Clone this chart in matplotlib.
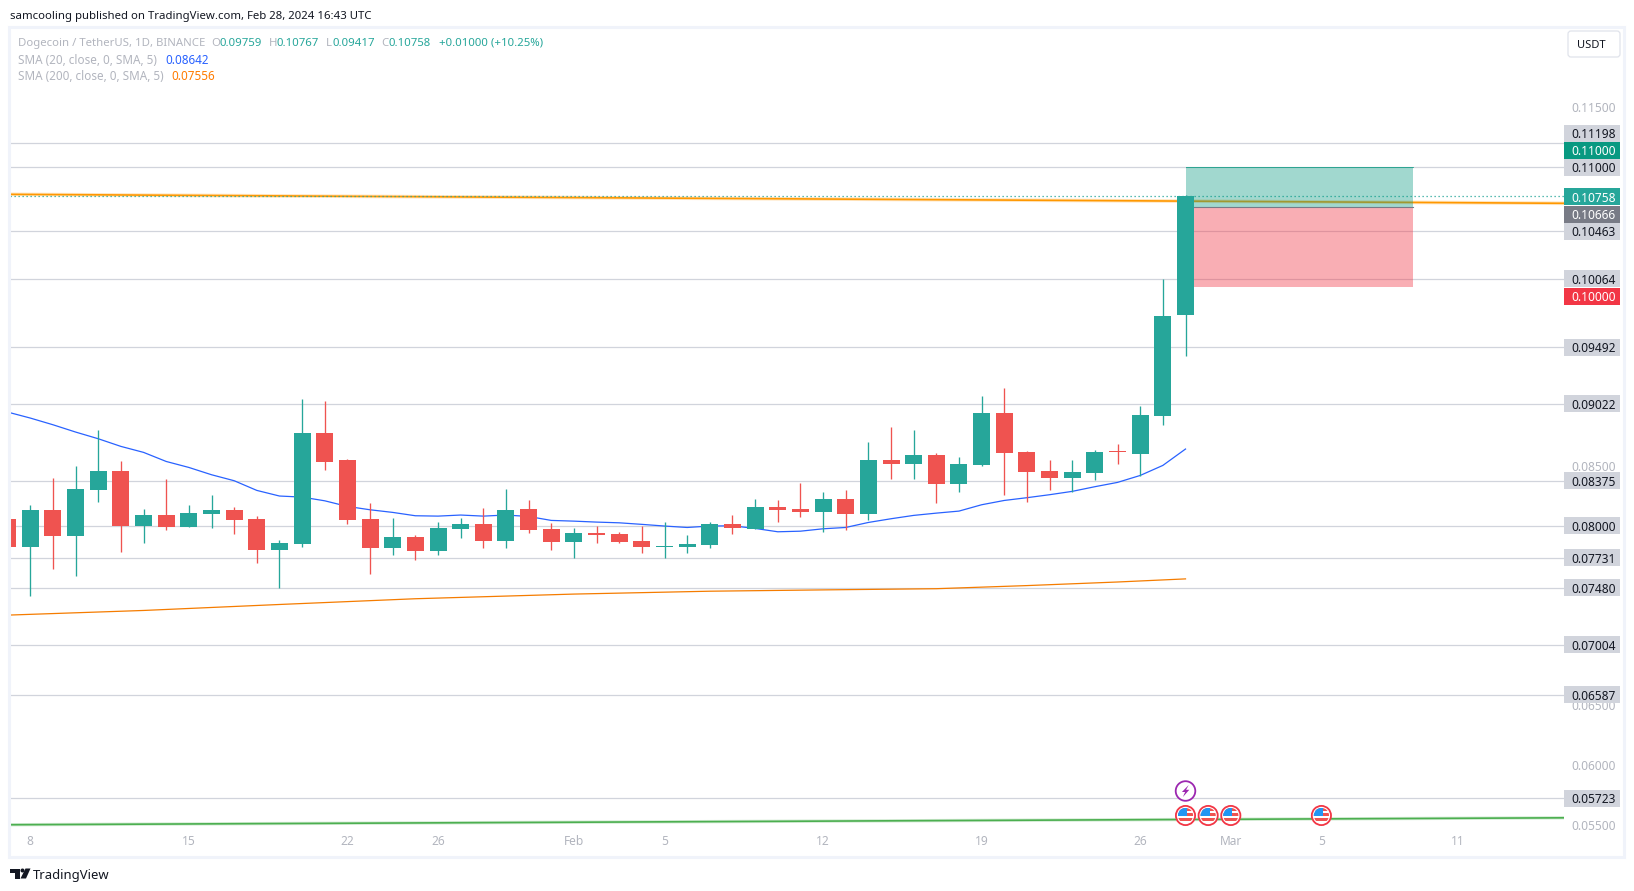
import matplotlib
matplotlib.use("Agg")
import matplotlib.pyplot as plt
from matplotlib.patches import Rectangle, Circle, FancyBboxPatch, Polygon

plt.rcParams['font.family'] = ['Noto Sans', 'DejaVu Sans']

W, H = 1634, 891

# daily bars, first one is the 7 Jan candle cut by the left edge
first_bar = -1
opens = [.08059, .07819, .08134, .07917, .08301, .08460, .08000, .08092, .07992, .08101,
         .08134, .08059, .07800, .07850, .08778, .08552, .08059, .07816, .07908, .07791,
         .07975, .08017, .07875, .08143, .07975, .07867, .07942, .07933, .07875, .07825,
         .07825, .07841, .08017, .07975, .08159, .08143, .08117, .08226, .08101, .08552,
         .08519, .08594, .08352, .08511, .08945, .08619, .08460, .08402, .08444, .08619,
         .08602, .08920, .09759]
highs = [.08059, .08176, .08402, .08502, .08803, .08544, .08143, .08393, .08176, .08260,
         .08159, .08084, .07883, .09062, .09046, .08561, .08193, .08067, .07925, .08034,
         .08067, .08151, .08310, .08218, .08025, .07984, .08000, .07950, .08000, .08034,
         .07925, .08034, .08092, .08226, .08218, .08360, .08285, .08301, .08703, .08828,
         .08803, .08611, .08577, .09088, .09154, .08628, .08552, .08552, .08636, .08686,
         .09004, .10064, .10767]
lows = [.07819, .07415, .07641, .07582, .08201, .07783, .07858, .07967, .07992, .07984,
        .07934, .07691, .07482, .07825, .08469, .08017, .07599, .07758, .07716, .07758,
        .07900, .07816, .07816, .07942, .07800, .07733, .07858, .07858, .07775, .07733,
        .07775, .07816, .07933, .07975, .08034, .08076, .07950, .07967, .08051, .08393,
        .08393, .08193, .08285, .08502, .08260, .08201, .08301, .08285, .08385, .08519,
        .08419, .08845, .09417]
closes = [.07819, .08134, .07917, .08310, .08460, .08000, .08092, .07992, .08109, .08134,
          .08051, .07800, .07858, .08778, .08536, .08051, .07816, .07908, .07791, .07984,
          .08017, .07875, .08134, .07967, .07867, .07942, .07925, .07867, .07825, .07833,
          .07850, .08017, .07984, .08159, .08134, .08117, .08226, .08101, .08552, .08519,
          .08594, .08352, .08519, .08945, .08611, .08452, .08402, .08452, .08619, .08614,
          .08929, .09756, .10758]

sma20 = [.08951, .08901, .08845, .08784, .08728, .08664, .08614, .08538, .08488, .08427,
         .08377, .08296, .08249, .08240, .08209, .08162, .08134, .08112, .08084, .08081,
         .08090, .08081, .08090, .08078, .08045, .08039, .08031, .08025, .08012, .07998,
         .07986, .07998, .08000, .07978, .07950, .07955, .07975, .07986, .08028, .08059,
         .08087, .08106, .08123, .08176, .08212, .08235, .08260, .08288, .08327, .08363,
         .08421, .08505, .08642]
sma200_bars = [-1, 5, 11, 17, 24, 30, 35, 40, 44, 48, 51]
sma200 = [.07253, .07292, .07342, .07390, .07429, .07453, .07464, .07474, .07500, .07530, .07556]

# drawn trend lines, (left edge value, right edge value)
orange_trend = [.10772, .10697]
green_trend = [.05500, .05558]

hlines = [.11198, .11000, .10463, .10064, .09492, .09022, .08375, .08000, .07731, .07480,
          .07004, .06587, .05723]
price_ticks = [.11500, .08500, .06500, .06000, .05500]

date_bars = [0, 7, 14, 18, 24, 28, 35, 42, 49, 53, 57, 63]
date_labels = ['8', '15', '22', '26', 'Feb', '5', '12', '19', '26', 'Mar', '5', '11']

entry, target, stop = .10666, .11000, .10000
pos_start, pos_end = 51, 61.03

flag_bars = [51, 52, 53, 57]
bolt_bar = 51

# price scale tags: value, colour, text colour, shift in px so they do not overlap
tags = [(.11198, '#d1d4dc', '#131722', -10),
        (.11000, '#089981', 'white', -17),
        (.11000, '#d1d4dc', '#131722', 0),
        (.10463, '#d1d4dc', '#131722', 0),
        (.10064, '#d1d4dc', '#131722', 0),
        (.10000, '#f23645', 'white', 9.5),
        (.10758, '#26a69a', 'white', 0.5),
        (.10666, '#787b86', 'white', 7),
        (.09492, '#d1d4dc', '#131722', 0),
        (.09022, '#d1d4dc', '#131722', 0),
        (.08375, '#d1d4dc', '#131722', 0),
        (.08000, '#d1d4dc', '#131722', 0),
        (.07731, '#d1d4dc', '#131722', 0),
        (.07480, '#d1d4dc', '#131722', 0),
        (.07004, '#d1d4dc', '#131722', 0),
        (.06587, '#d1d4dc', '#131722', 0),
        (.05723, '#d1d4dc', '#131722', 0)]

UP = '#26a69a'
DOWN = '#ef5350'
GREY = '#b2b5be'

fig = plt.figure(figsize=(W / 100, H / 100), dpi=100, facecolor='white')
ax_left, ax_right, ax_top, ax_bottom = 10, 1564, 26.8, 831.8
ax = fig.add_axes([ax_left / W, 1 - ax_bottom / H, (ax_right - ax_left) / W, (ax_bottom - ax_top) / H])
ax.set_xlim(-0.896, 67.71)
ax.set_ylim(.05441, .12173)
for s in ax.spines.values():
    s.set_visible(False)

for lv in hlines:
    ax.axhline(lv, color='#d1d4dc', lw=0.9, zorder=1)

x0, x1 = ax.get_xlim()
ax.plot([x0, x1], orange_trend, color='#ff9800', lw=2.6, alpha=0.25, zorder=2, solid_capstyle='butt')
ax.plot([x0, x1], orange_trend, color='#ff9800', lw=1.2, zorder=2, solid_capstyle='butt')
ax.plot([x0, x1], green_trend, color='#4caf50', lw=2.4, alpha=0.25, zorder=2, solid_capstyle='butt')
ax.plot([x0, x1], green_trend, color='#4caf50', lw=1.2, zorder=2, solid_capstyle='butt')
ax.axhline(closes[-1], color=UP, lw=0.9, ls=(0, (1, 2.2)), zorder=2.2)

bars = list(range(first_bar, first_bar + len(opens)))
ax.plot(bars, sma20, color='#2962ff', lw=0.9, zorder=2.5)
ax.plot(sma200_bars, sma200, color='#f57c00', lw=0.9, zorder=2.5)

# long position box
ax.add_patch(Rectangle((pos_start, entry), pos_end - pos_start, target - entry,
                       fc='#089981', alpha=0.38, ec='none', zorder=3))
ax.add_patch(Rectangle((pos_start, stop), pos_end - pos_start, entry - stop,
                       fc='#f23645', alpha=0.4, ec='none', zorder=3))
ax.plot([pos_start, pos_end], [target, target], color='#089981', lw=0.7, alpha=0.7, zorder=3.1)
ax.plot([pos_start, pos_end], [entry, entry], color='#787b86', lw=0.8, zorder=3.1)

for i, o, h, l, c in zip(bars, opens, highs, lows, closes):
    col = UP if c >= o else DOWN
    ax.vlines(i, l, h, color=col, lw=0.95, zorder=4)
    # keep dojis visible as a one pixel body
    ax.bar(i, max(abs(c - o), .0001), bottom=min(o, c), width=0.75, color=col, lw=0, zorder=4)

ax.yaxis.tick_right()
ax.set_yticks(price_ticks)
ax.set_yticklabels(['%.5f' % p for p in price_ticks])
ax.set_xticks(date_bars)
ax.set_xticklabels(date_labels)
ax.tick_params(axis='y', length=0, pad=5.5, labelsize=8.6, labelcolor=GREY)
ax.tick_params(axis='x', length=0, pad=2.5, labelsize=8.6, labelcolor=GREY)

# overlay in pixel units for tags, legend, icons and the page furniture
ov = fig.add_axes([0, 0, 1, 1], facecolor='none')
ov.set_xlim(0, W)
ov.set_ylim(H, 0)
ov.axis('off')


def px_x(bar):
    return ax_left + (bar - x0) / (x1 - x0) * (ax_right - ax_left)


def px_y(price):
    lo, hi = ax.get_ylim()
    return ax_top + (hi - price) / (hi - lo) * (ax_bottom - ax_top)


ov.add_patch(Rectangle((9.5, 27), 1614.5, 830, fc='none', ec='#f0f3fa', lw=2.2))

for price, bg, fg, shift in tags:
    y = px_y(price) + shift
    ov.add_patch(Rectangle((1564, y - 8.5), 56, 17, fc=bg, ec='none'))
    ov.text(1571, y, '%.5f' % price, color=fg, fontsize=8.6, va='center_baseline', ha='left')

ov.text(10.5, 15, 'samcooling published on TradingView.com, Feb 28, 2024 16:43 UTC',
        color='#131722', fontsize=8.2, va='center_baseline')

legend_rows = [
    (41.7, 8.2, [(18, 'Dogecoin / TetherUS, 1D, BINANCE', GREY), (211.6, 'O', GREY), (220, '0.09759', UP),
                 (269, 'H', GREY), (277, '0.10767', UP), (326, 'L', GREY), (333, '0.09417', UP),
                 (381.5, 'C', GREY), (389, '0.10758', UP), (438.6, '+0.01000 (+10.25%)', UP)]),
    (58.6, 8.45, [(18, 'SMA (20, close, 0, SMA, 5)', GREY), (165, '0.08642', '#2962ff')]),
    (75.2, 8.45, [(18, 'SMA (200, close, 0, SMA, 5)', GREY), (171, '0.07556', '#ff7b00')]),
]
for y, fs, parts in legend_rows:
    for x, txt, col in parts:
        ov.text(x, y, txt, color=col, fontsize=fs, va='center_baseline')

ov.add_patch(FancyBboxPatch((1568, 31), 52, 26, boxstyle='round,pad=0,rounding_size=3',
                            fc='white', ec='#e0e3eb', lw=0.9))
ov.text(1591, 44.5, 'USDT', color='#131722', fontsize=8, ha='center', va='center_baseline')

# earnings/economic event icons along the bottom
icon_y = 815.5
for b in flag_bars:
    cx = px_x(b)
    ring = Circle((cx, icon_y), 9.6, fc='white', ec='#f23645', lw=1.3, zorder=5)
    ov.add_patch(ring)
    inner = Circle((cx, icon_y), 7.6, transform=ov.transData)
    for k, sy in enumerate([-7.5, -2.5, 2.5]):
        st = Rectangle((cx - 8, icon_y + sy), 16, 2.7, fc='#ef5350', ec='none', zorder=6)
        ov.add_patch(st)
        st.set_clip_path(inner)
    canton = Rectangle((cx - 8, icon_y - 8), 9.5, 8, fc='#2196f3', ec='none', zorder=7)
    ov.add_patch(canton)
    canton.set_clip_path(inner)

bx, by = px_x(bolt_bar), 791
ov.add_patch(Circle((bx, by), 9.8, fc='white', ec='#9c27b0', lw=1.3, zorder=5))
ov.add_patch(Polygon([(bx + 3.2, by - 6), (bx - 3.6, by + 1), (bx - 0.4, by + 1), (bx - 2.6, by + 6),
                      (bx + 3.8, by - 1.2), (bx + 0.6, by - 1.2)], fc='#9c27b0', ec='none', zorder=6))

# TradingView logo
ov.add_patch(Rectangle((10, 868.5), 10, 4, fc='#131722', ec='none'))
ov.add_patch(Rectangle((15, 868.5), 5, 10, fc='#131722', ec='none'))
ov.add_patch(Circle((22.5, 870.5), 2, fc='#131722', ec='none'))
ov.add_patch(Polygon([(25.5, 868.5), (30.5, 868.5), (26, 878.5), (20.5, 878.5)], fc='#131722', ec='none'))
ov.text(33, 873.5, 'TradingView', color='#131722', fontsize=9.4, va='center_baseline')

fig.savefig('out.png', dpi=100, facecolor='white')
